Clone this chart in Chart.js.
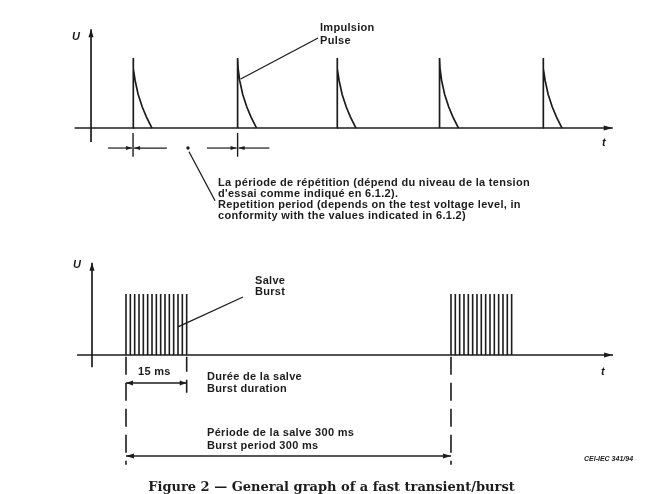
<!DOCTYPE html>
<html>
<head>
<meta charset="utf-8">
<script src="https://cdn.jsdelivr.net/npm/chart.js@4.4.0/dist/chart.umd.min.js"></script>
<style>
  html, body { margin: 0; padding: 0; background: #fff; }
  #wrap { position: relative; width: 663px; height: 494px; overflow: hidden;
          font-family: "Liberation Sans", Arial, sans-serif; color: #1c1c1c; }
  canvas { position: absolute; left: 0; }
  #topChart { top: 0; }
  #botChart { top: 240px; }
  .lbl { position: absolute; font-size: 11px; line-height: 11px; white-space: nowrap;
         font-weight: bold; letter-spacing: 0.3px; }
  .ax { position: absolute; font-size: 11px; font-style: italic; font-weight: bold; }
  .ref { position: absolute; font-size: 7px; font-style: italic; font-weight: bold; white-space: nowrap; }
  .cap { position: absolute; left: 0; width: 663px; text-align: center; top: 479px;
         font-family: "DejaVu Serif", serif; font-weight: bold; font-size: 13px; }
</style>
</head>
<body>
<div id="wrap">
  <canvas id="topChart" width="663" height="240"></canvas>
  <canvas id="botChart" width="663" height="254"></canvas>

  <div class="ax" style="left:72px; top:30px;">U</div>
  <div class="ax" style="left:602px; top:136px;">t</div>
  <div class="lbl" style="left:320px; top:21px; line-height:12.5px;">Impulsion<br>Pulse</div>
  <div class="lbl" style="left:218px; top:177px;">La période de répétition (dépend du niveau de la tension<br>d'essai comme indiqué en 6.1.2).<br>Repetition period (depends on the test voltage level, in<br>conformity with the values indicated in 6.1.2)</div>

  <div class="ax" style="left:73px; top:258px;">U</div>
  <div class="ax" style="left:601px; top:365px;">t</div>
  <div class="lbl" style="left:255px; top:275px;">Salve<br>Burst</div>
  <div class="lbl" id="durLbl" style="left:138px; top:366px;"></div>
  <div class="lbl" id="durText" style="left:207px; top:370px; line-height:12px;"></div>
  <div class="lbl" id="perText" style="left:207px; top:426px; line-height:13px;"></div>
  <div class="ref" style="left:584px; top:455px;">CEI-IEC 341/94</div>
  <div class="cap">Figure 2 — General graph of a fast transient/burst</div>
</div>

<script>
// top: pulse starts (in repetition periods) and the shape of one pulse
const pulseTimes = [0.41, 1.43, 2.40, 3.40, 4.41];
const pulseShapeT = [0, 0, 0.005, 0.02, 0.05, 0.09, 0.13, 0.185];
const pulseShapeU = [0, 1, 0.85, 0.68, 0.48, 0.30, 0.16, 0];

// bottom: spikes of the two bursts (schematic time units, not to scale)
const burstOneSpikes = [0, 1, 2, 3, 4, 5, 6, 7, 8, 9, 10, 11, 12, 13, 14];
const burstTwoSpikes = [75, 76, 77, 78, 79, 80, 81, 82, 83, 84, 85, 86, 87, 88, 89];
const spikeU = [0, 1];
const burstDurationMs = 15;
const burstPeriodMs = 300;

const ink = '#1c1c1c';

document.getElementById('durLbl').textContent = burstDurationMs + ' ms';
document.getElementById('durText').innerHTML = 'Durée de la salve<br>Burst duration';
document.getElementById('perText').innerHTML =
  'Période de la salve ' + burstPeriodMs + ' ms<br>Burst period ' + burstPeriodMs + ' ms';

function arrowHead(ctx, x, y, dx, dy, len, half) {
  const d = Math.hypot(dx, dy) || 1;
  const ux = dx / d, uy = dy / d;
  ctx.beginPath();
  ctx.moveTo(x, y);
  ctx.lineTo(x - ux * len - uy * half, y - uy * len + ux * half);
  ctx.lineTo(x - ux * len + uy * half, y - uy * len - ux * half);
  ctx.closePath();
  ctx.fill();
}

// draws axes, leader lines and dimension arrows in data coordinates
function sketch(items) {
  return {
    id: 'sketch',
    afterDatasetsDraw(chart) {
      const ctx = chart.ctx, xs = chart.scales.x, ys = chart.scales.y;
      const P = p => [xs.getPixelForValue(p[0]), ys.getPixelForValue(p[1])];
      ctx.save();
      ctx.strokeStyle = ink;
      ctx.fillStyle = ink;
      items.forEach(it => {
        if (it.dot) {
          const [x, y] = P(it.dot);
          ctx.beginPath(); ctx.arc(x, y, 1.7, 0, Math.PI * 2); ctx.fill();
          return;
        }
        const [x1, y1] = P(it.from), [x2, y2] = P(it.to);
        ctx.lineWidth = it.w || 1.2;
        ctx.setLineDash(it.dash || []);
        ctx.beginPath(); ctx.moveTo(x1, y1); ctx.lineTo(x2, y2); ctx.stroke();
        ctx.setLineDash([]);
        const hl = it.hl || 7, hw = it.hw || 2.2;
        if (it.headEnd) arrowHead(ctx, x2, y2, x2 - x1, y2 - y1, hl, hw);
        if (it.headStart) arrowHead(ctx, x1, y1, x1 - x2, y1 - y2, hl, hw);
      });
      ctx.restore();
    }
  };
}

function baseOptions(xmin, xmax, ymin, ymax) {
  return {
    responsive: false,
    animation: false,
    layout: { padding: 0 },
    plugins: { legend: { display: false }, tooltip: { enabled: false } },
    scales: {
      x: { type: 'linear', display: false, min: xmin, max: xmax },
      y: { type: 'linear', display: false, min: ymin, max: ymax }
    },
    elements: { point: { radius: 0 }, line: { tension: 0 } }
  };
}

// ---- top chart: single pulses ----
const pulseSets = pulseTimes.map(t0 => ({
  data: pulseShapeT.map((dt, i) => ({ x: t0 + dt, y: pulseShapeU[i] })),
  showLine: true, borderColor: ink, borderWidth: 1.7, pointRadius: 0
}));

const repMarks = [];
pulseTimes.slice(0, 2).forEach((t0, k) => {
  const left = k === 0 ? 0.245 : 0.30, right = k === 0 ? 0.33 : 0.31;
  repMarks.push({ from: [t0, -0.07], to: [t0, -0.41], w: 1.4 });
  repMarks.push({ from: [t0 - left, -0.286], to: [t0 - 0.01, -0.286], headEnd: true, hl: 6, hw: 2 });
  repMarks.push({ from: [t0 + right, -0.286], to: [t0 + 0.01, -0.286], headEnd: true, hl: 6, hw: 2 });
});

new Chart(document.getElementById('topChart'), {
  type: 'scatter',
  data: { datasets: pulseSets },
  options: baseOptions(-0.888, 5.58, -1.6, 1.829),
  plugins: [sketch([
    { from: [0, -0.2], to: [0, 1.41], w: 1.7, headEnd: true, hl: 8, hw: 2.6 },
    { from: [-0.16, 0], to: [5.09, 0], w: 1.7, headEnd: true, hl: 9, hw: 2.6 },
    { from: [2.215, 1.286], to: [1.46, 0.70], w: 1.3 },
    ...repMarks,
    { dot: [0.946, -0.286] },
    { from: [0.956, -0.34], to: [1.21, -1.04], w: 1.3 }
  ])]
});

// ---- bottom chart: bursts ----
function spikeData(list) {
  const pts = [];
  list.forEach(t => {
    pts.push({ x: t, y: spikeU[0] }, { x: t, y: spikeU[1] }, { x: t, y: null });
  });
  return pts;
}

new Chart(document.getElementById('botChart'), {
  type: 'scatter',
  data: {
    datasets: [burstOneSpikes, burstTwoSpikes].map(list => ({
      data: spikeData(list), showLine: true, spanGaps: false,
      borderColor: ink, borderWidth: 1.6, pointRadius: 0
    }))
  },
  options: baseOptions(-29.08, 123.93, -2.279, 1.885),
  plugins: [sketch([
    { from: [-7.85, -0.2], to: [-7.85, 1.51], w: 1.7, headEnd: true, hl: 8, hw: 2.6 },
    { from: [-11.3, 0], to: [112.4, 0], w: 1.7, headEnd: true, hl: 9, hw: 2.6 },
    { from: [27, 0.95], to: [12, 0.46], w: 1.3 },
    { from: [0, -0.03], to: [0, -1.80], w: 1.6, dash: [18, 8] },
    { from: [75, -0.03], to: [75, -1.80], w: 1.6, dash: [18, 8] },
    { from: [14, -0.03], to: [14, -0.62], w: 1.6, dash: [15, 8] },
    { from: [0, -0.459], to: [14, -0.459], w: 1.3, headStart: true, headEnd: true, hl: 7, hw: 2.4 },
    { from: [0, -1.656], to: [75, -1.656], w: 1.3, headStart: true, headEnd: true, hl: 8, hw: 2.4 }
  ])]
});
</script>
</body>
</html>
